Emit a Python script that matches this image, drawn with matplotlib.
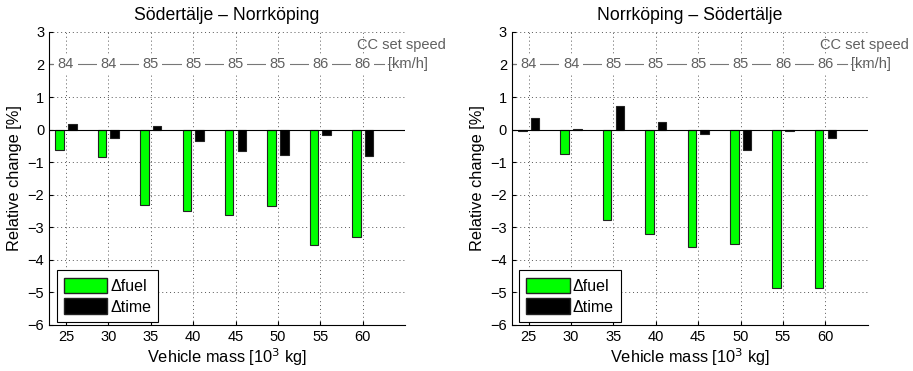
import numpy as np
import matplotlib
matplotlib.use("Agg")
import matplotlib.pyplot as plt
from matplotlib.patches import Patch

plt.rcParams['font.family'] = ['Liberation Sans', 'DejaVu Sans']

mass = [25, 30, 35, 40, 45, 50, 55, 60]
cc_speed = [84, 84, 85, 85, 85, 85, 86, 86]

# relative change [%] per route
sn_fuel = [-0.64, -0.83, -2.33, -2.51, -2.63, -2.35, -3.55, -3.30]
sn_time = [0.16, -0.25, 0.11, -0.34, -0.67, -0.79, -0.18, -0.81]
ns_fuel = [-0.05, -0.74, -2.77, -3.21, -3.62, -3.52, -4.85, -4.85]
ns_time = [0.37, 0.02, 0.73, 0.24, -0.12, -0.62, -0.05, -0.26]

titles = ['Södertälje – Norrköping', 'Norrköping – Södertälje']
fuel_sets = [sn_fuel, ns_fuel]
time_sets = [sn_time, ns_time]

fig = plt.figure(figsize=(9.13, 3.71), dpi=100)
lefts = [0.0537, 0.5605]

for i in range(2):
    ax = fig.add_axes([lefts[i], 0.124, 0.39, 0.79])
    x = np.array(mass, dtype=float)
    ax.bar(x - 0.75, fuel_sets[i], width=1.0, color='#00ff00',
           edgecolor='#222222', linewidth=0.8, zorder=3)
    ax.bar(x + 0.75, time_sets[i], width=1.0, color='black',
           edgecolor='#222222', linewidth=0.8, zorder=3)
    ax.axhline(0, color='black', linewidth=0.8, zorder=4)

    ax.set_xlim(23, 65)
    ax.set_ylim(-6, 3)
    ax.set_xticks(mass)
    ax.set_yticks(range(-6, 4))
    ax.set_yticklabels([str(v).replace('-', '\u2212') for v in range(-6, 4)])
    ax.grid(True, linestyle=(0, (1, 3)), color='#555555', linewidth=0.7)
    ax.set_axisbelow(True)
    for s in ['top', 'right']:
        ax.spines[s].set_visible(False)
    ax.tick_params(direction='in', labelsize=10.5, length=3)

    # CC set speed row
    ax.plot([23, 62.5], [2, 2], color='#777777', linewidth=0.8, zorder=2,
            clip_on=False)
    for m, v in zip(mass, cc_speed):
        ax.text(m, 2, str(v), color='#606060', fontsize=10.5, ha='center',
                va='center', zorder=5,
                bbox=dict(facecolor='white', edgecolor='none', pad=2.5))
    ax.text(63.0, 2, '[km/h]', color='#606060', fontsize=10.5, ha='left',
            va='center', zorder=5, clip_on=False)
    ax.text(69.8, 2.6, 'CC set speed', color='#606060', fontsize=10.5,
            ha='right', va='center', clip_on=False)

    ax.set_title(titles[i], fontsize=12.7, pad=8.5)
    ax.set_xlabel('Vehicle mass [10$^3$ kg]', fontsize=11.8, labelpad=2)
    ax.set_ylabel('Relative change [%]', fontsize=11.8, labelpad=4)

    handles = [Patch(facecolor='#00ff00', edgecolor='#222222', label='\u0394fuel'),
               Patch(facecolor='black', edgecolor='#222222', label='\u0394time')]
    leg = ax.legend(handles=handles, loc='lower left', fontsize=11.5,
                    fancybox=False, framealpha=1, edgecolor='black',
                    handlelength=2.7, handleheight=1.1, handletextpad=0.2,
                    borderpad=0.45, labelspacing=0.3, borderaxespad=0,
                    bbox_to_anchor=(0.021, 0.011))
    leg.get_frame().set_linewidth(0.8)

fig.savefig('out.png', dpi=100)
